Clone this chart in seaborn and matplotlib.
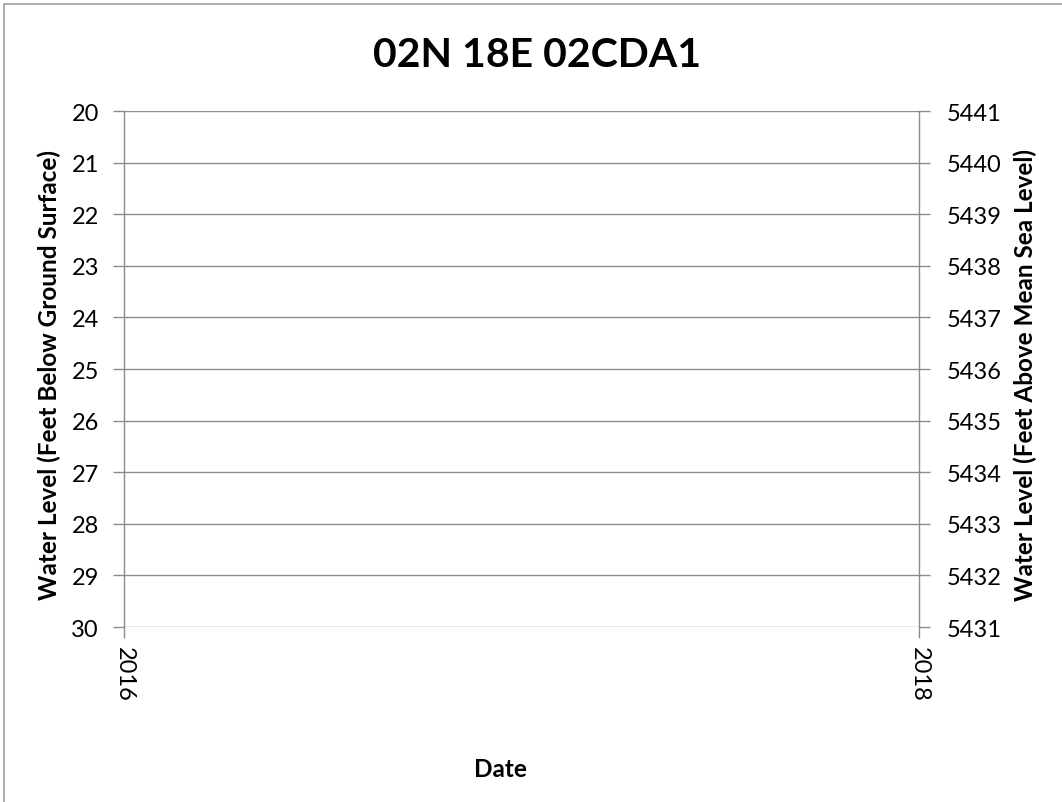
import matplotlib
matplotlib.use("Agg")
import matplotlib.pyplot as plt
import matplotlib.patches as patches
import seaborn as sns
import pandas as pd

# chart data (well has no readings in this period)
dates = []
depth_ft = []
x_ticks = [2016, 2018]
left_ticks = list(range(20, 31))
right_ticks = list(range(5431, 5442))
title = "02N 18E 02CDA1"

sns.set_theme(style="white")
plt.rcParams['font.family'] = ['Lato', 'DejaVu Sans']
plt.rcParams['text.color'] = 'black'
plt.rcParams['axes.labelcolor'] = 'black'

fig = plt.figure(figsize=(10.62, 8.03), dpi=100)
ax = fig.add_axes([0.1168, 0.2179, 0.7486, 0.6426])

df = pd.DataFrame({"date": pd.Series(dates, dtype=float),
                   "depth": pd.Series(depth_ft, dtype=float)})
sns.lineplot(data=df, x="date", y="depth", ax=ax, color="#1f4e79")

grid_col = "#8c8c8c"
tick_fs = 17
lab_fs = 17.5

ax.set_xlim(x_ticks[0], x_ticks[-1])
ax.set_xticks(x_ticks)
ax.set_xticklabels([str(t) for t in x_ticks], rotation=-90, fontsize=tick_fs)
ax.set_ylim(left_ticks[-1], left_ticks[0])
ax.set_yticks(left_ticks)
ax.set_yticklabels([str(t) for t in left_ticks], fontsize=tick_fs)
ax.yaxis.grid(True, color=grid_col, linewidth=1)
ax.xaxis.grid(False)

for s in ["top", "bottom", "right"]:
    ax.spines[s].set_visible(False)
ax.spines["left"].set_color(grid_col)
ax.spines["left"].set_linewidth(1)

ax.tick_params(axis="y", left=True, length=8, width=1, color=grid_col,
               labelcolor="black", pad=10)
ax.tick_params(axis="x", bottom=True, length=8, width=1, color=grid_col,
               labelcolor="black", pad=6)

ax.set_xlabel("Date", fontsize=lab_fs, fontweight="bold", va="center")
ax.xaxis.set_label_coords(0.474, -0.275)
ax.set_ylabel("Water Level (Feet Below Ground Surface)", fontsize=lab_fs,
              fontweight="bold", va="center")
ax.yaxis.set_label_coords(-0.0943, 0.49)

ax2 = ax.twinx()
ax2.set_ylim(right_ticks[0], right_ticks[-1])
ax2.set_yticks(right_ticks)
ax2.set_yticklabels([str(t) for t in right_ticks], fontsize=tick_fs)
ax2.tick_params(axis="y", right=True, length=8, width=1, color=grid_col,
                labelcolor="black", pad=12)
for s in ["top", "bottom", "left"]:
    ax2.spines[s].set_visible(False)
ax2.spines["right"].set_color(grid_col)
ax2.spines["right"].set_linewidth(1)
ax2.set_ylabel("Water Level (Feet Above Mean Sea Level)", fontsize=lab_fs,
               fontweight="bold", va="center")
ax2.yaxis.set_label_coords(1.1333, 0.49)
ax2.grid(False)

fig.text(0.506, 0.9315, title, fontsize=29.5, fontweight="bold",
         ha="center", va="center")

# outer chart border
fig.patches.append(patches.Rectangle((0.0038, -0.05), 1.1, 0.9938 + 0.05,
                                     transform=fig.transFigure, fill=False,
                                     edgecolor="#a0a0a0", linewidth=1.2))

fig.savefig("out.png", dpi=100)
